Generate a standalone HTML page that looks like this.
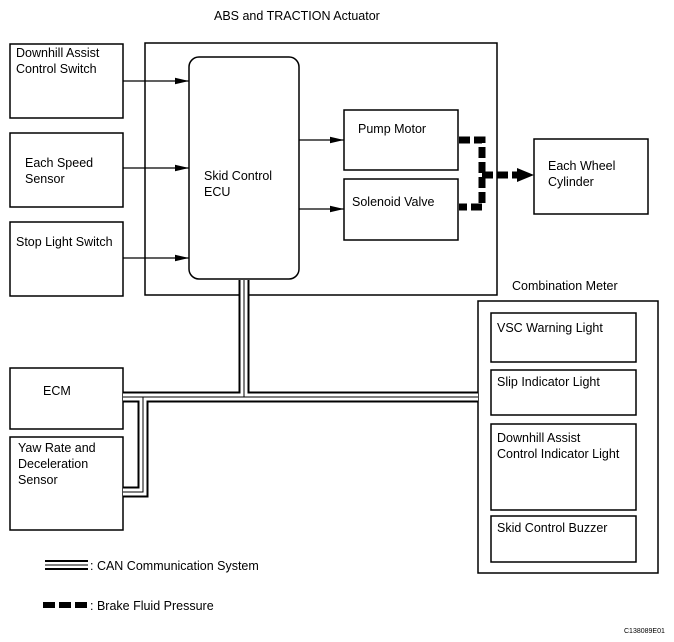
<!DOCTYPE html>
<html><head><meta charset="utf-8"><style>
body{margin:0;background:#fff}
svg{display:block;font-family:"Liberation Sans",sans-serif;font-size:12.5px}
</style></head><body>
<svg width="674" height="642" viewBox="0 0 674 642" xmlns="http://www.w3.org/2000/svg">
<defs><marker id="a" markerWidth="14" markerHeight="8" refX="14" refY="4" orient="auto" markerUnits="userSpaceOnUse"><path d="M0,0.8 L14,4 L0,7.2z" fill="#000"/></marker></defs>
<g fill="none" stroke="#000" stroke-width="1.5">
<rect x="145" y="43" width="352" height="252"/>
<rect x="189" y="57" width="110" height="222" rx="10"/>
<rect x="10" y="44" width="113" height="74"/>
<rect x="10" y="133" width="113" height="74"/>
<rect x="10" y="222" width="113" height="74"/>
<rect x="344" y="110" width="114" height="60"/>
<rect x="344" y="179" width="114" height="61"/>
<rect x="534" y="139" width="114" height="75"/>
<rect x="478" y="301" width="180" height="272"/>
<rect x="491" y="313" width="145" height="49"/>
<rect x="491" y="370" width="145" height="45"/>
<rect x="491" y="424" width="145" height="86"/>
<rect x="491" y="516" width="145" height="46"/>
<rect x="10" y="368" width="113" height="61"/>
<rect x="10" y="437" width="113" height="93"/>
</g>
<g stroke="#000" stroke-width="1.2" marker-end="url(#a)">
<line x1="123" y1="81" x2="189" y2="81"/>
<line x1="123" y1="168" x2="189" y2="168"/>
<line x1="123" y1="258" x2="189" y2="258"/>
<line x1="299" y1="140" x2="344" y2="140"/>
<line x1="299" y1="209" x2="344" y2="209"/>
</g>
<g fill="none" stroke="#000" stroke-width="7" stroke-dasharray="11,4">
<path d="M459,140 H482 V207 H459"/>
<path d="M482,175 H520"/>
</g>
<path d="M517,168 L534,175 L517,182z" fill="#000"/>
<g fill="none" stroke-linejoin="miter">
<path d="M244,280 V397 M123,397 H478 M143,397 V492 H123" stroke="#000" stroke-width="11"/>
<path d="M244,280 V397 M123,397 H478 M143,397 V492 H123" stroke="#fff" stroke-width="7"/>
<path d="M244,280 V397 M123,397 H478 M143,397 V492 H123" stroke="#000" stroke-width="1"/>
</g>
<rect x="45" y="560" width="43" height="10" fill="#000"/>
<rect x="45" y="562" width="43" height="6" fill="#fff"/>
<rect x="45" y="564.5" width="43" height="1" fill="#000"/>
<g fill="#000"><rect x="43" y="602" width="12" height="6"/><rect x="59" y="602" width="12" height="6"/><rect x="75" y="602" width="12" height="6"/></g>
<g fill="#000">
<text x="214" y="20">ABS and TRACTION Actuator</text>
<text x="16" y="57">Downhill Assist</text><text x="16" y="73">Control Switch</text>
<text x="25" y="167">Each Speed</text><text x="25" y="183">Sensor</text>
<text x="16" y="246">Stop Light Switch</text>
<text x="204" y="180">Skid Control</text><text x="204" y="196">ECU</text>
<text x="358" y="133">Pump Motor</text>
<text x="352" y="206">Solenoid Valve</text>
<text x="548" y="170">Each Wheel</text><text x="548" y="186">Cylinder</text>
<text x="512" y="290">Combination Meter</text>
<text x="497" y="332">VSC Warning Light</text>
<text x="497" y="386">Slip Indicator Light</text>
<text x="497" y="442">Downhill Assist</text><text x="497" y="458">Control Indicator Light</text>
<text x="497" y="532">Skid Control Buzzer</text>
<text x="43" y="395">ECM</text>
<text x="18" y="452">Yaw Rate and</text><text x="18" y="468">Deceleration</text><text x="18" y="484">Sensor</text>
<text x="90" y="570">: CAN Communication System</text>
<text x="90" y="610">: Brake Fluid Pressure</text>
<text x="624" y="633" font-size="7">C138089E01</text>
</g>
</svg>
</body></html>
